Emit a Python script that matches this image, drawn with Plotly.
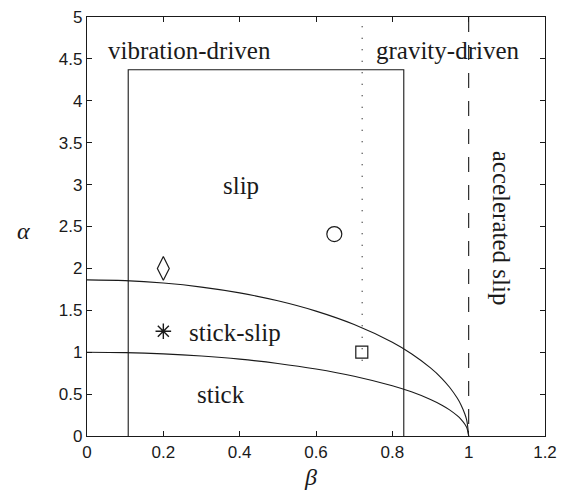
import plotly.graph_objects as go

# boundary curves
beta_curve = [0, 0.1, 0.2, 0.3, 0.4, 0.5, 0.6, 0.7, 0.8, 0.85, 0.9, 0.93, 0.95, 0.97, 0.98, 0.99, 0.995, 1.0]
alpha_lower = [1.0, 0.995, 0.98, 0.954, 0.917, 0.866, 0.8, 0.714, 0.6, 0.527, 0.436, 0.368, 0.312, 0.243, 0.199, 0.141, 0.1, 0.0]
alpha_upper = [1.863, 1.854, 1.825, 1.777, 1.708, 1.613, 1.49, 1.33, 1.118, 0.981, 0.812, 0.686, 0.582, 0.453, 0.371, 0.263, 0.186, 0.0]

# rectangle region
box_beta = [0.108, 0.108, 0.83, 0.83]
box_alpha = [0.0, 4.37, 4.37, 0.0]

# vertical lines (drawn top to bottom)
dotted_beta = [0.721, 0.721]
dotted_alpha = [4.89, 0.82]
dashed_beta = [1.0, 1.0]
dashed_alpha = [5.0, 0.0]

# markers
circle_pt = (0.648, 2.41)
diamond_pt = (0.2, 2.0)
star_pt = (0.2, 1.25)
square_pt = (0.72, 1.0)

# region labels
label_text = ["vibration-driven", "gravity-driven", "slip", "stick-slip", "stick"]
label_beta = [0.268, 0.947, 0.403, 0.387, 0.352]
label_alpha = [4.6, 4.6, 2.99, 1.24, 0.5]

x_ticks = [0, 0.2, 0.4, 0.6, 0.8, 1, 1.2]
x_ticktext = ["0", "0.2", "0.4", "0.6", "0.8", "1", "1.2"]
y_ticks = [0, 0.5, 1, 1.5, 2, 2.5, 3, 3.5, 4, 4.5, 5]
y_ticktext = ["0", "0.5", "1", "1.5", "2", "2.5", "3", "3.5", "4", "4.5", "5"]

INK = "#1a1a1a"
SERIF = "Liberation Serif"

fig = go.Figure()
line_style = dict(color=INK, width=1.1)
fig.add_trace(go.Scatter(x=beta_curve, y=alpha_lower, mode="lines", line=dict(color=INK, width=1.1, shape="spline"), hoverinfo="skip"))
fig.add_trace(go.Scatter(x=beta_curve, y=alpha_upper, mode="lines", line=dict(color=INK, width=1.1, shape="spline"), hoverinfo="skip"))
fig.add_trace(go.Scatter(x=box_beta, y=box_alpha, mode="lines", line=line_style, hoverinfo="skip"))
fig.add_trace(go.Scatter(x=dotted_beta, y=dotted_alpha, mode="lines", line=dict(color=INK, width=1.2, dash="1px,10.5px"), hoverinfo="skip"))
fig.add_trace(go.Scatter(x=dashed_beta, y=dashed_alpha, mode="lines", line=dict(color=INK, width=1.1, dash="15px,13px"), hoverinfo="skip"))

def marker(pt, sym, size, lw=1.2):
    fig.add_trace(go.Scatter(x=[pt[0]], y=[pt[1]], mode="markers",
                             marker=dict(symbol=sym, size=size, color=INK,
                                         line=dict(color=INK, width=lw)),
                             hoverinfo="skip"))

marker(circle_pt, "circle-open", 15)
marker(diamond_pt, "diamond-tall-open", 17)
marker(square_pt, "square-open", 12)
marker(star_pt, "asterisk-open", 13, 1.4)

for t, bx, ay in zip(label_text, label_beta, label_alpha):
    fig.add_annotation(x=bx, y=ay, text=t, showarrow=False,
                       font=dict(family=SERIF, size=25, color=INK),
                       xanchor="center", yanchor="middle")

fig.add_annotation(x=1.086, y=2.48, text="accelerated slip", showarrow=False, textangle=90,
                   font=dict(family=SERIF, size=25, color=INK),
                   xanchor="center", yanchor="middle")

# axis titles
fig.add_annotation(xref="paper", yref="paper", x=(310 - 87) / 458, y=-0.097,
                   text="<i>β</i>", showarrow=False,
                   font=dict(family=SERIF, size=24, color=INK), xanchor="center", yanchor="middle")
fig.add_annotation(xref="paper", yref="paper", x=(23 - 87) / 458, y=0.49,
                   text="<i>α</i>", showarrow=False,
                   font=dict(family=SERIF, size=24, color=INK), xanchor="center", yanchor="middle")

axis_common = dict(showgrid=False, zeroline=False, showline=True, linecolor=INK, linewidth=1.3,
                   mirror="ticks", ticks="inside", ticklen=5, tickcolor=INK, tickwidth=1,
                   ticklabeloverflow="allow", automargin=False,
                   tickfont=dict(family="Liberation Sans", size=17, color=INK))
fig.update_xaxes(range=[0, 1.2], tickvals=x_ticks, ticktext=x_ticktext, **axis_common)
fig.update_yaxes(range=[0, 5], tickvals=y_ticks, ticktext=y_ticktext, **axis_common)

fig.update_layout(width=572, height=497, showlegend=False,
                  plot_bgcolor="white", paper_bgcolor="white",
                  margin=dict(l=79, r=35, t=9, b=69))

fig.write_html("out.html")
